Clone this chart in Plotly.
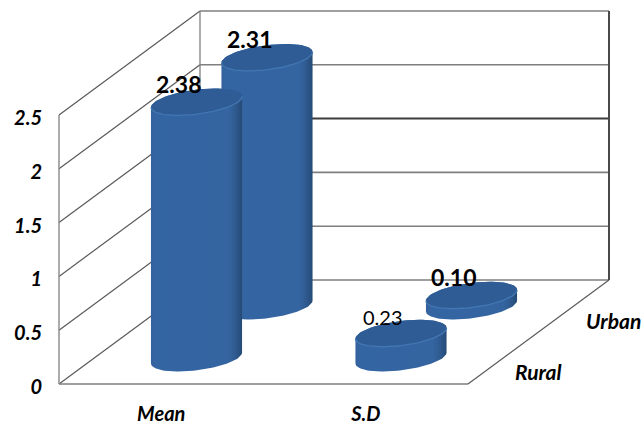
import numpy as np
import plotly.graph_objects as go

# Chart values
categories = ["Mean", "S.D"]
series_names = ["Rural", "Urban"]
rural_values = [2.38, 0.23]
urban_values = [2.31, 0.10]
rural_labels = ["2.38", "0.23"]
urban_labels = ["2.31", "0.10"]
y_ticks = [0, 0.5, 1, 1.5, 2, 2.5]
y_tick_text = ["0", "0.5", "1", "1.5", "2", "2.5"]

# Oblique projection of the 3D box, in axis units
PX_X = 204.5            # pixels per category
PX_Y = 107.6            # pixels per value unit
DEPTH_DX = 141 / PX_X   # horizontal shift of the full floor depth
DEPTH_DY = 104 / PX_Y   # vertical shift of the full floor depth
N_CAT = len(categories)
N_SER = len(series_names)
Y_MAX = 2.5
RADIUS_X = 41.7 / PX_X
RADIUS_D = 0.13

PAD = 4
FONT = "Lato"


def project(cat, depth, val):
    return cat + depth * DEPTH_DX, val + depth * DEPTH_DY


fig = go.Figure()


def segment(p, q, color, width):
    fig.add_trace(go.Scatter(x=[p[0], q[0]], y=[p[1], q[1]], mode="lines",
                             line=dict(color=color, width=width),
                             hoverinfo="skip", showlegend=False))


GRID = "#7f7f7f"
WALL = "#5a5a5a"

# Walls and floor: gridlines run along the side wall and across the back wall
for v in y_ticks:
    segment(project(0, 0, v), project(0, 1, v), WALL, 1.2)
    if v == 1.5:
        segment(project(0, 1, v), project(N_CAT, 1, v), "#3c3c3c", 2)
    else:
        segment(project(0, 1, v), project(N_CAT, 1, v), GRID, 1.6)
segment(project(0, 0, 0), project(0, 0, Y_MAX), GRID, 1.3)
segment(project(0, 1, 0), project(0, 1, Y_MAX), GRID, 1.3)
segment(project(N_CAT, 1, 0), project(N_CAT, 1, Y_MAX), "#4a4a4a", 2)
segment(project(0, 0, 0), project(N_CAT, 0, 0), GRID, 1.7)
segment(project(N_CAT, 0, 0), project(N_CAT, 1, 0), WALL, 1.2)


def ellipse(cat, depth, val, t):
    cx, cy = project(cat, depth, val)
    return (cx + RADIUS_X * np.cos(t) + RADIUS_D * DEPTH_DX * np.sin(t),
            cy + RADIUS_D * DEPTH_DY * np.sin(t))


def cylinder(cat, depth, val):
    # parameter of the left and right silhouette points of the tilted ellipse
    t_r = np.arctan2(RADIUS_D * DEPTH_DX, RADIUS_X)
    t_l = t_r + np.pi
    lower = np.linspace(t_l, t_r + 2 * np.pi, 60)
    upper = np.linspace(t_r, t_l, 60)
    bx, by = ellipse(cat, depth, 0, lower)
    tx, ty = ellipse(cat, depth, val, upper)
    fig.add_trace(go.Scatter(
        x=np.r_[bx, tx], y=np.r_[by, ty], mode="lines", fill="toself",
        line=dict(width=0),
        fillgradient=dict(type="horizontal", colorscale=[
            [0, "#33629d"], [0.06, "#3465a3"], [0.85, "#3465a1"],
            [0.93, "#2f5a8f"], [1, "#254a75"]]),
        hoverinfo="skip", showlegend=False))
    ax, ay = ellipse(cat, depth, val, np.linspace(0, 2 * np.pi, 120))
    fig.add_trace(go.Scatter(x=ax, y=ay, mode="lines", fill="toself",
                             fillcolor="#2f5c94", line=dict(width=0),
                             hoverinfo="skip", showlegend=False))
    rx, ry = ellipse(cat, depth, val, lower)
    fig.add_trace(go.Scatter(x=rx, y=ry, mode="lines",
                             line=dict(color="#4277b3", width=1.3),
                             hoverinfo="skip", showlegend=False))


# Back row first so the front row overlaps it
depths = [0.25, 0.75]
rows = [(rural_values, rural_labels, depths[0]), (urban_values, urban_labels, depths[1])]
for values, _, d in reversed(rows):
    for i, v in enumerate(values):
        cylinder(i + 0.5, d, v)

# Value labels above each cylinder
for values, labels, d in rows:
    for i, (v, lab) in enumerate(zip(values, labels)):
        x, y = project(i + 0.5, d, v)
        regular = lab == "0.23"
        fig.add_annotation(
            x=x, y=y, text=lab if regular else f"<b>{lab}</b>", showarrow=False,
            xshift=-18, yshift=16 if regular else 18,
            font=dict(family=FONT, size=20 if regular else 23, color="#000000"))

# Series names beside the floor's right edge
for name, d, off_x, off_y in [("Rural", 0.25, 35, -13), ("Urban", 0.75, 40, -14)]:
    x, y = project(N_CAT, d, 0)
    fig.add_annotation(x=x, y=y, text=f"<b><i>{name}</i></b>", showarrow=False,
                       xshift=off_x, yshift=off_y,
                       font=dict(family=FONT, size=21, color="#000000"))

fig.update_layout(
    width=643, height=426, autosize=False,
    margin=dict(l=59 - PAD, r=0, t=0, b=42 - PAD),
    paper_bgcolor="white", plot_bgcolor="white", showlegend=False,
    xaxis=dict(range=[-PAD / PX_X, 584 / PX_X], showgrid=False, zeroline=False,
               showline=False, tickmode="array", automargin=False,
               tickvals=[i + 0.5 for i in range(N_CAT)], ticktext=categories,
               ticks="outside", ticklen=0, ticklabelstandoff=8,
               tickfont=dict(family=FONT, size=20, color="#000000", weight="bold", style="italic")),
    yaxis=dict(range=[-PAD / PX_Y, 384 / PX_Y], showgrid=False, zeroline=False,
               showline=False, tickmode="array", tickvals=y_ticks, ticktext=y_tick_text,
               ticks="outside", ticklen=0, ticklabelstandoff=8, ticklabelshift=3,
               automargin=False,
               tickfont=dict(family=FONT, size=20, color="#000000", weight="bold", style="italic")),
)

fig.write_html("out.html")
